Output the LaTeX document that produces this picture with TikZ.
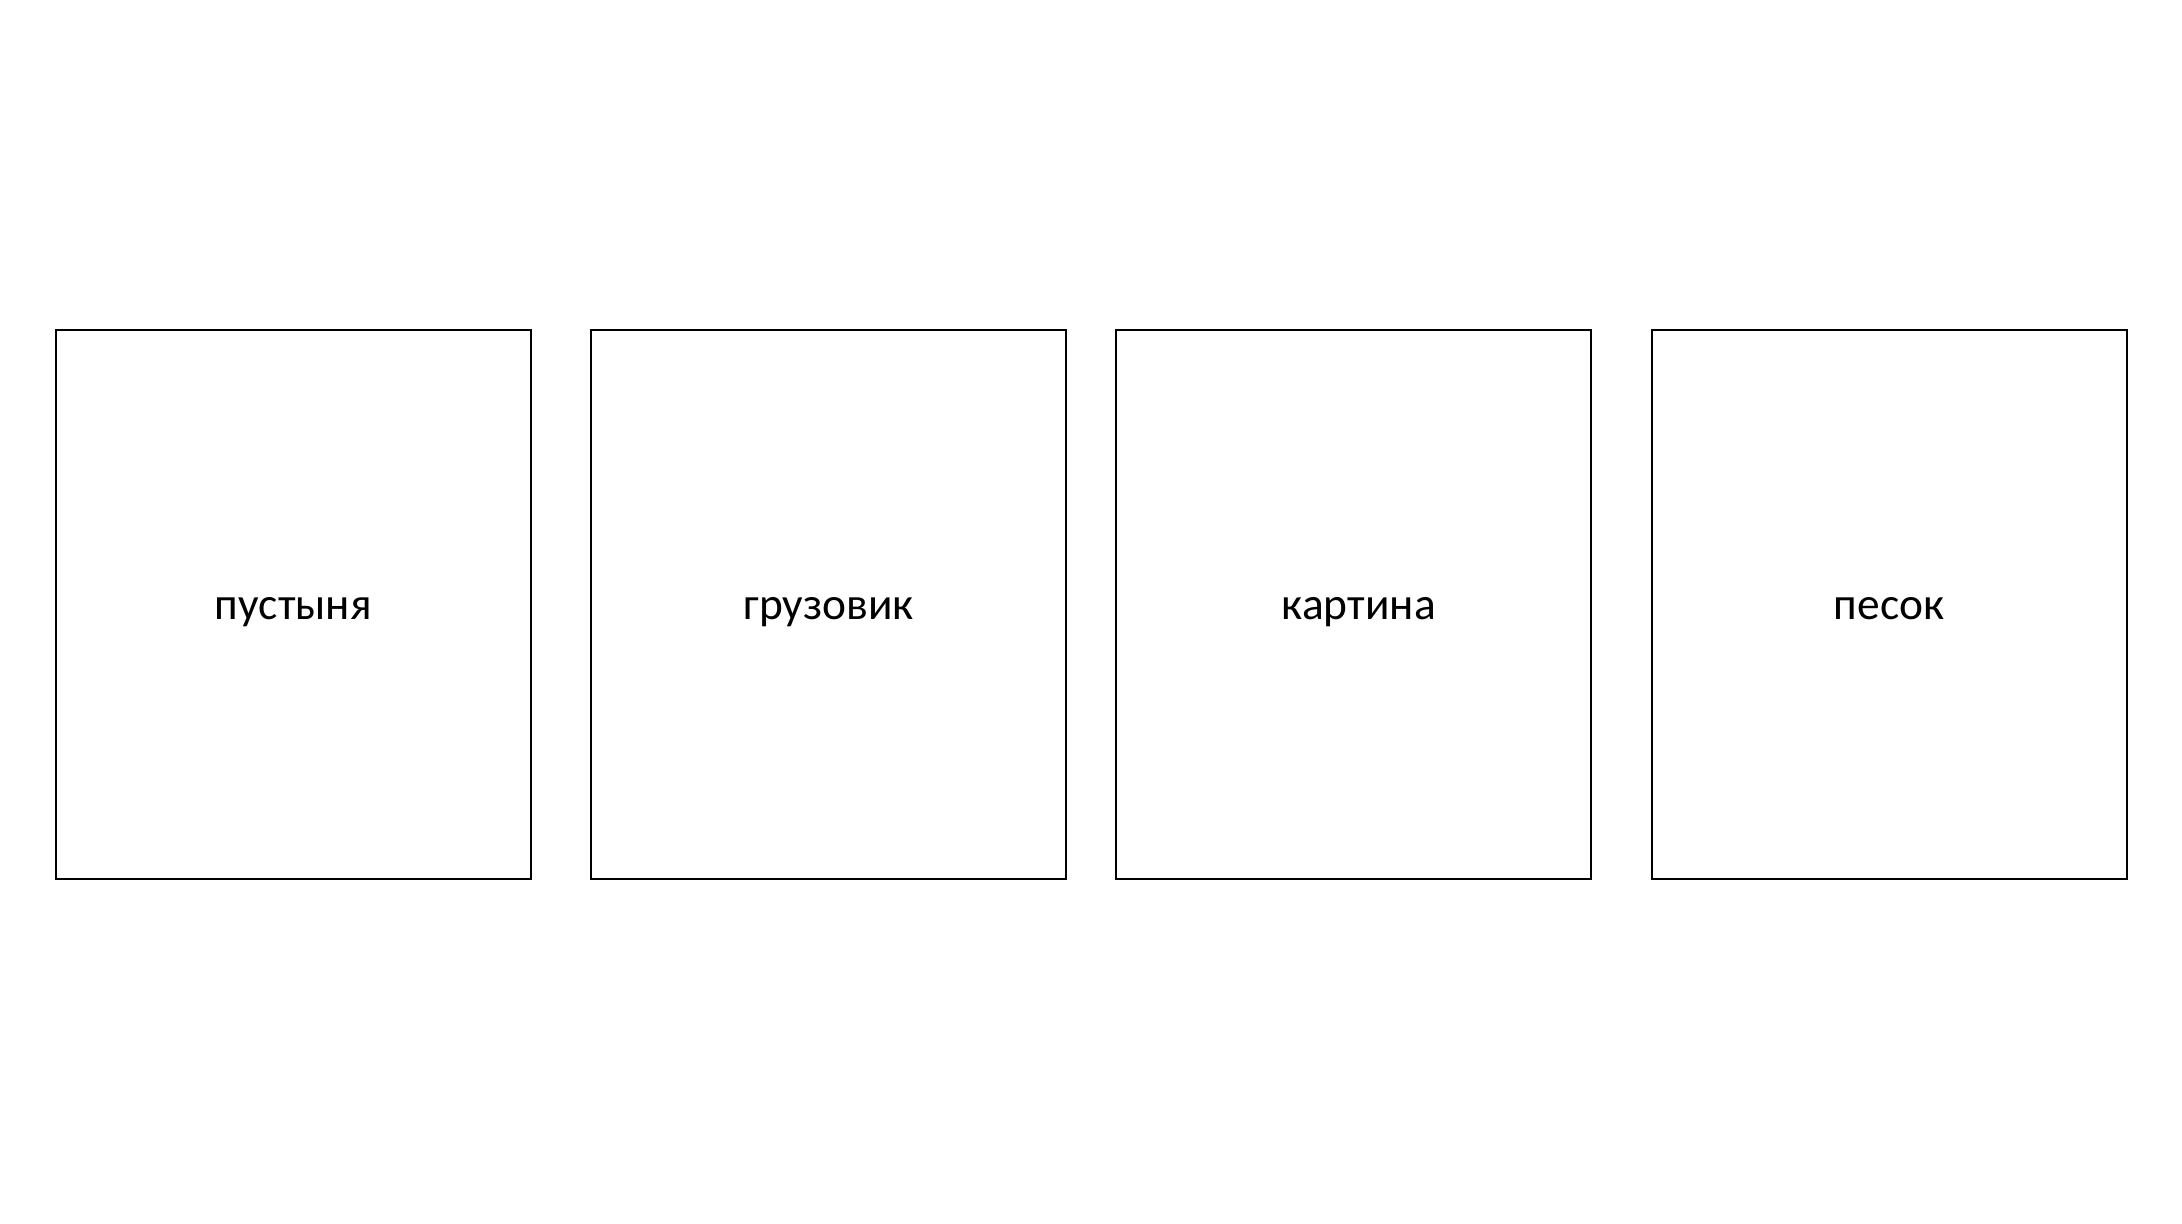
\documentclass[tikz,border=0pt]{standalone}
\usepackage{fontspec}
\setmainfont{Carlito}
\begin{document}
\begin{tikzpicture}[x=0.5pt,y=-0.5pt,
  card/.style={draw=black,line width=1pt,rectangle,minimum width=237.5pt,minimum height=274.75pt,inner sep=0pt,text height=14.4pt,text depth=0pt,font=\fontsize{22.7}{26}\selectfont}]
\useasboundingbox (0,0) rectangle (2182,1224);
\node[card] (a) at (293.2,604.7) {пустыня};
\node[card] (b) at (828.7,604.7) {грузовик};
\node[card] (c) at (1353.3,604.7) {\hspace{5.5pt}картина};
\node[card] (d) at (1889.1,604.7) {песок};
\end{tikzpicture}
\end{document}
